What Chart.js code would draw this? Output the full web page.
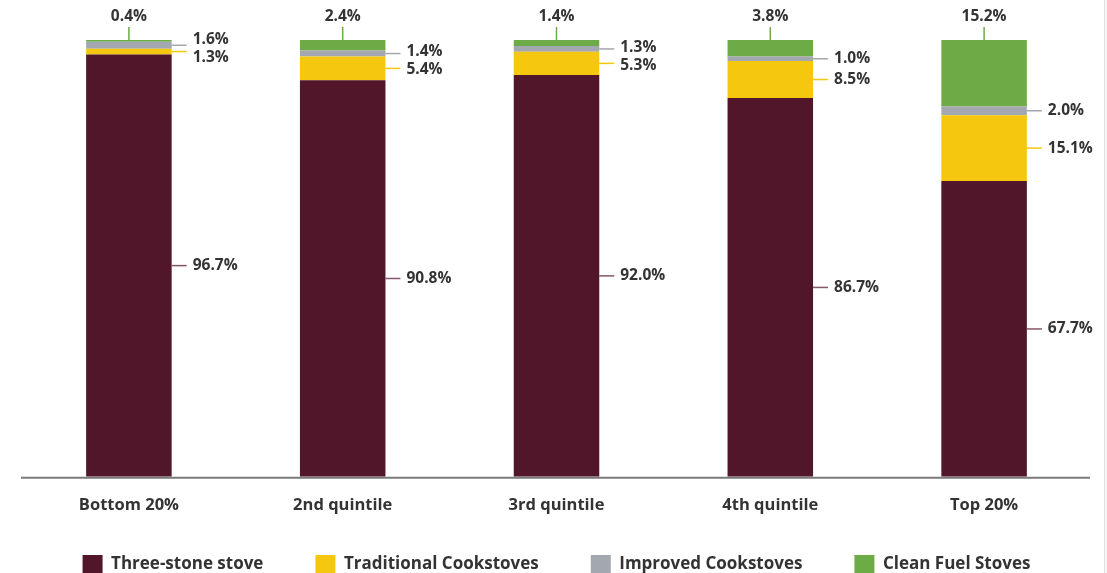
<!DOCTYPE html>
<html>
<head>
<meta charset="utf-8">
<script src="https://cdn.jsdelivr.net/npm/chart.js@4/dist/chart.umd.min.js"></script>
<style>
  html, body { margin: 0; padding: 0; background: #ffffff; }
  #wrap { position: relative; width: 1107px; height: 573px; }
  #wrap::after { content: ""; position: absolute; right: 0; top: 0; width: 3px; height: 573px; background: #f4f4f4; border-left: 1px solid #e2e2e2; box-sizing: border-box; }
</style>
</head>
<body>
<div id="wrap"><canvas id="c" width="1107" height="573"></canvas></div>
<script>
const categories = ["Bottom 20%", "2nd quintile", "3rd quintile", "4th quintile", "Top 20%"];
const seriesNames = ["Three-stone stove", "Traditional Cookstoves", "Improved Cookstoves", "Clean Fuel Stoves"];
const threeStone = [96.7, 90.8, 92.0, 86.7, 67.7];
const traditional = [1.3, 5.4, 5.3, 8.5, 15.1];
const improved = [1.6, 1.4, 1.3, 1.0, 2.0];
const cleanFuel = [0.4, 2.4, 1.4, 3.8, 15.2];

const colors = ["#511629", "#F5C70E", "#A3A7AF", "#6DAB46"];
const lineColors = ["#83566a", "#F5C70E", "#A3A7AF", "#6DAB46"];
const FONT = "'Open Sans', 'Noto Sans', sans-serif";
const TXT = "#333333";

const labelPlugin = {
  id: 'stackLabels',
  afterDatasetsDraw(chart) {
    const ctx = chart.ctx;
    ctx.save();
    ctx.font = "bold 15.5px " + FONT;
    ctx.fillStyle = TXT;
    const metas = [0,1,2,3].map(i => chart.getDatasetMeta(i));
    const fmt = v => v.toFixed(1) + "%";
    for (let i = 0; i < categories.length; i++) {
      const b = metas.map(m => m.data[i]);
      const right = b[0].x + b[0].width / 2;
      const mid0 = (b[0].y + b[0].base) / 2;
      drawSide(ctx, right, mid0, mid0, lineColors[0], fmt(threeStone[i]));
      const midT = (b[1].y + b[1].base) / 2;
      const midI = (b[2].y + b[2].base) / 2;
      let lT = midT, lI = midI;
      const minGap = 18;
      if (lT - lI < minGap) {
        const m = (lT + lI) / 2;
        lI = m - minGap / 2; lT = m + minGap / 2;
      }
      drawSide(ctx, right, midI, lI, lineColors[2], fmt(improved[i]));
      drawSide(ctx, right, midT, lT, lineColors[1], fmt(traditional[i]));
      const top = b[3].y;
      ctx.strokeStyle = lineColors[3];
      ctx.lineWidth = 1.5;
      ctx.beginPath();
      ctx.moveTo(b[3].x, top);
      ctx.lineTo(b[3].x, top - 13);
      ctx.stroke();
      ctx.textAlign = "center";
      ctx.textBaseline = "middle";
      ctx.fillText(fmt(cleanFuel[i]), b[3].x, top - 23);
    }
    ctx.restore();
  }
};
function drawSide(ctx, x, lineY, textY, color, text) {
  ctx.strokeStyle = color;
  ctx.lineWidth = 1.5;
  ctx.beginPath();
  ctx.moveTo(x, lineY);
  ctx.lineTo(x + 15, lineY);
  ctx.stroke();
  ctx.textAlign = "left";
  ctx.textBaseline = "middle";
  ctx.fillText(text, x + 21, textY);
}

const axisPlugin = {
  id: 'baseAxis',
  afterDatasetsDraw(chart) {
    const {ctx, chartArea} = chart;
    const y = chart.scales.y.getPixelForValue(0);
    ctx.save();
    ctx.strokeStyle = "#7a7a7a";
    ctx.lineWidth = 2;
    ctx.beginPath();
    ctx.moveTo(chartArea.left - 1, y + 1);
    ctx.lineTo(chartArea.right - 1, y + 1);
    ctx.stroke();
    ctx.restore();
  }
};

const values = [threeStone, traditional, improved, cleanFuel];
new Chart(document.getElementById('c'), {
  type: 'bar',
  data: {
    labels: categories,
    datasets: seriesNames.map((n, k) => ({
      label: n,
      data: values[k],
      backgroundColor: colors[k],
      borderWidth: 0,
      categoryPercentage: 1.0,
      barPercentage: 0.4
    }))
  },
  options: {
    responsive: false,
    animation: false,
    layout: { padding: { left: 22, right: 16, top: 40, bottom: -11 } },
    scales: {
      x: {
        stacked: true,
        grid: { display: false, drawTicks: false },
        border: { display: false },
        ticks: { color: TXT, font: { family: FONT, size: 16.5, weight: 'bold' }, padding: 19 },
        afterFit(scale) { scale.height = 39; }
      },
      y: {
        stacked: true,
        display: false,
        min: 0, max: 100
      }
    },
    plugins: {
      legend: {
        position: 'bottom',
        title: { display: true, text: '', font: { size: 1 }, padding: { top: -14, bottom: 0 } },
        labels: {
          color: TXT,
          font: { family: FONT, size: 17, weight: 'bold' },
          boxWidth: 20, boxHeight: 19,
          padding: 52
        }
      },
      tooltip: { enabled: false }
    }
  },
  plugins: [labelPlugin, axisPlugin]
});
</script>
</body>
</html>
